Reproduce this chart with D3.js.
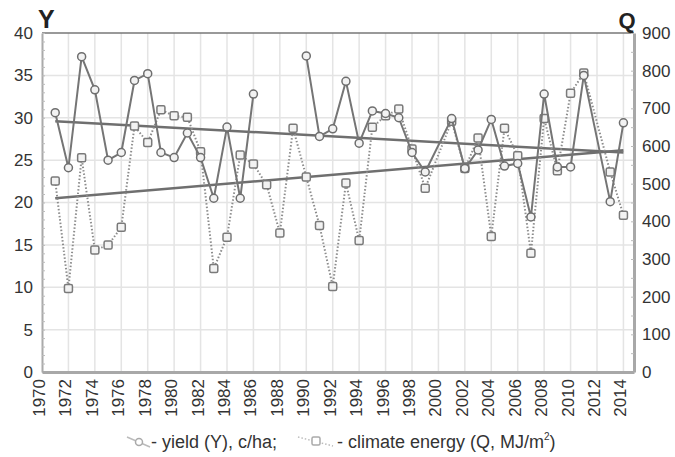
<!DOCTYPE html>
<html>
<head>
<meta charset="utf-8">
<script src="https://cdn.jsdelivr.net/npm/d3@7"></script>
<style>
  html, body { margin: 0; padding: 0; background: #fff; }
  text { font-family: "Liberation Sans", Arial, sans-serif; }
</style>
</head>
<body>
<svg id="chart" width="675" height="457"></svg>
<script>
// Years of observation
const years = [1971, 1972, 1973, 1974, 1975, 1976, 1977, 1978, 1979, 1980,
               1981, 1982, 1983, 1984, 1985, 1986, 1987, 1988, 1989, 1990,
               1991, 1992, 1993, 1994, 1995, 1996, 1997, 1998, 1999, 2000,
               2001, 2002, 2003, 2004, 2005, 2006, 2007, 2008, 2009, 2010,
               2011, 2012, 2013, 2014];

// Yield Y, c/ha (null = no record)
const yieldValues = [30.6, 24.1, 37.2, 33.3, 25.0, 25.9, 34.4, 35.2, 25.9, 25.3,
                     28.2, 25.3, 20.5, 28.9, 20.5, 32.8, null, null, null, 37.3,
                     27.8, 28.7, 34.3, 27.0, 30.8, 30.5, 30.0, 25.9, 23.6, null,
                     29.9, 24.0, 26.2, 29.8, 24.3, 24.6, 18.3, 32.8, 24.2, 24.2,
                     35.0, null, 20.1, 29.4];

// Climate energy Q, MJ/m2 (null = no record)
const energyValues = [507, 222, 569, 324, 337, 384, 653, 609, 696, 680,
                      676, 585, 275, 358, 576, 552, 497, 369, 647, 518,
                      389, 227, 502, 349, 650, 680, 698, 592, 488, null,
                      666, 540, 621, 360, 647, 574, 315, 673, 534, 740,
                      794, null, 531, 416];

// Linear trends (end points)
const trendYears = [1971, 2014];
const yieldTrend = [29.6, 25.9];
const energyTrend = [461, 589];

// Axis ticks
const yieldTicks = [0, 5, 10, 15, 20, 25, 30, 35, 40];
const energyTicks = [0, 100, 200, 300, 400, 500, 600, 700, 800, 900];
const yearTicks = [1970, 1972, 1974, 1976, 1978, 1980, 1982, 1984, 1986, 1988,
                   1990, 1992, 1994, 1996, 1998, 2000, 2002, 2004, 2006, 2008,
                   2010, 2012, 2014];

const svg = d3.select("#chart");
const L = 42, R = 634, T = 33, B = 372;

const x = d3.scaleLinear().domain([1970, 2014.8]).range([L, R]);
const yY = d3.scaleLinear().domain([0, 40]).range([B, T]);
const yQ = d3.scaleLinear().domain([0, 900]).range([B, T]);

// Grid
const grid = svg.append("g");
grid.selectAll("line.h").data(yieldTicks.filter(d => d > 0 && d < 40)).join("line")
  .attr("x1", L).attr("x2", R)
  .attr("y1", d => yY(d)).attr("y2", d => yY(d))
  .attr("stroke", "#e4e4e4").attr("stroke-width", 1.5);
grid.selectAll("line.v").data(yearTicks.filter(d => d > 1970)).join("line")
  .attr("x1", d => x(d)).attr("x2", d => x(d))
  .attr("y1", T).attr("y2", B)
  .attr("stroke", "#e4e4e4").attr("stroke-width", 1.5);

// Frame lines
svg.append("line").attr("x1", L).attr("x2", R).attr("y1", T).attr("y2", T)
  .attr("stroke", "#777").attr("stroke-width", 1.5);

// Left axis
const leftAxis = svg.append("g").attr("transform", `translate(${L},0)`)
  .call(d3.axisLeft(yY).tickValues(yieldTicks).tickSize(0).tickPadding(9));
leftAxis.select(".domain").attr("stroke", "#aaa").attr("stroke-width", 2);
leftAxis.selectAll("text").attr("font-size", 17).attr("fill", "#333")
  .attr("font-family", "Liberation Sans, Arial, sans-serif");
// minor ticks on the left axis
svg.append("g").attr("transform", `translate(${L},0)`)
  .call(d3.axisRight(yY).ticks(40).tickSize(3).tickFormat(""))
  .call(g => g.select(".domain").remove())
  .selectAll("line").attr("stroke", "#bbb");

// Right axis
const rightAxis = svg.append("g").attr("transform", `translate(${R},0)`)
  .call(d3.axisRight(yQ).tickValues(energyTicks).tickSize(0).tickPadding(8));
rightAxis.select(".domain").attr("stroke", "#a8a8a8").attr("stroke-width", 3);
rightAxis.selectAll("text").attr("font-size", 17).attr("fill", "#333")
  .attr("font-family", "Liberation Sans, Arial, sans-serif");
svg.append("g").attr("transform", `translate(${R},0)`)
  .call(d3.axisLeft(yQ).ticks(18).tickSize(3).tickFormat(""))
  .call(g => g.select(".domain").remove())
  .selectAll("line").attr("stroke", "#bbb");

// Bottom axis
const bottomAxis = svg.append("g").attr("transform", `translate(0,${B})`)
  .call(d3.axisBottom(x).tickValues(yearTicks).tickSize(0).tickFormat(d3.format("d")));
bottomAxis.select(".domain").attr("stroke", "#a8a8a8").attr("stroke-width", 3);
bottomAxis.selectAll("text")
  .attr("transform", "rotate(-90)")
  .attr("text-anchor", "end")
  .attr("x", -7).attr("y", -3.5).attr("dy", "0.35em")
  .attr("font-size", 17).attr("fill", "#333")
  .attr("font-family", "Liberation Sans, Arial, sans-serif");

// Axis titles
svg.append("text").attr("x", 38).attr("y", 28).text("Y")
  .attr("font-size", 25).attr("font-weight", "bold").attr("fill", "#222");
svg.append("text").attr("x", 627).attr("y", 28).text("Q")
  .attr("text-anchor", "middle")
  .attr("font-size", 22).attr("font-weight", "bold").attr("fill", "#222");

// Split a series into runs; a single missing year is bridged, longer gaps break the line
function runs(values) {
  const pts = years.map((yr, i) => ({ yr, v: values[i] })).filter(d => d.v != null);
  const out = [];
  let cur = [];
  pts.forEach((p, i) => {
    if (i > 0 && p.yr - pts[i - 1].yr > 2) { out.push(cur); cur = []; }
    cur.push(p);
  });
  if (cur.length) out.push(cur);
  return out;
}

// Trend lines
svg.append("line")
  .attr("x1", x(trendYears[0])).attr("x2", x(trendYears[1]))
  .attr("y1", yY(yieldTrend[0])).attr("y2", yY(yieldTrend[1]))
  .attr("stroke", "#6f6f6f").attr("stroke-width", 2.5);
svg.append("line")
  .attr("x1", x(trendYears[0])).attr("x2", x(trendYears[1]))
  .attr("y1", yQ(energyTrend[0])).attr("y2", yQ(energyTrend[1]))
  .attr("stroke", "#6f6f6f").attr("stroke-width", 2.5);

// Climate energy series (dotted, squares)
const qLine = d3.line().x(d => x(d.yr)).y(d => yQ(d.v));
const qRuns = runs(energyValues);
svg.append("g").selectAll("path").data(qRuns).join("path")
  .attr("d", qLine).attr("fill", "none")
  .attr("stroke", "#8c8c8c").attr("stroke-width", 2)
  .attr("stroke-dasharray", "1.5,2");
svg.append("g").selectAll("rect").data(qRuns.flat()).join("rect")
  .attr("x", d => x(d.yr) - 4).attr("y", d => yQ(d.v) - 4)
  .attr("width", 8).attr("height", 8).attr("rx", 1.5)
  .attr("fill", "#f2f2f2").attr("stroke", "#7a7a7a").attr("stroke-width", 1.5);

// Yield series (solid, circles)
const yLine = d3.line().x(d => x(d.yr)).y(d => yY(d.v));
const yRuns = runs(yieldValues);
svg.append("g").selectAll("path").data(yRuns).join("path")
  .attr("d", yLine).attr("fill", "none")
  .attr("stroke", "#757575").attr("stroke-width", 2);
svg.append("g").selectAll("circle").data(yRuns.flat()).join("circle")
  .attr("cx", d => x(d.yr)).attr("cy", d => yY(d.v)).attr("r", 4)
  .attr("fill", "#f2f2f2").attr("stroke", "#6e6e6e").attr("stroke-width", 1.5);

// Legend
const lg = svg.append("g");
lg.append("line").attr("x1", 127).attr("y1", 437).attr("x2", 150).attr("y2", 447)
  .attr("stroke", "#bbb").attr("stroke-width", 1.5);
lg.append("circle").attr("cx", 139).attr("cy", 442).attr("r", 3.5)
  .attr("fill", "#fff").attr("stroke", "#aaa").attr("stroke-width", 1.5);
lg.append("text").attr("x", 151).attr("y", 448)
  .attr("font-size", 18).attr("fill", "#333").text("- yield (Y), c/ha;");
lg.append("line").attr("x1", 298).attr("y1", 437).attr("x2", 333).attr("y2", 446)
  .attr("stroke", "#bbb").attr("stroke-width", 1.5).attr("stroke-dasharray", "1.5,2");
lg.append("rect").attr("x", 312).attr("y", 437).attr("width", 8).attr("height", 8)
  .attr("rx", 1.5).attr("fill", "#fff").attr("stroke", "#aaa").attr("stroke-width", 1.5);
const t2 = lg.append("text").attr("x", 337).attr("y", 448)
  .attr("font-size", 18).attr("fill", "#333");
t2.append("tspan").text("- climate energy (Q, MJ/m");
t2.append("tspan").attr("font-size", 10).attr("dy", -8).text("2");
t2.append("tspan").attr("dy", 8).text(")");
</script>
</body>
</html>
